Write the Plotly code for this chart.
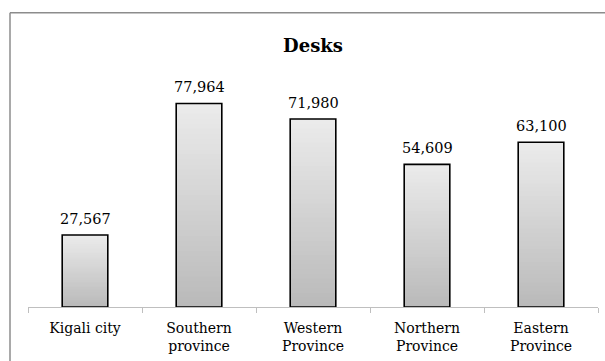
import plotly.graph_objects as go

categories = ["Kigali city", "Southern<br>province", "Western<br>Province", "Northern<br>Province", "Eastern<br>Province"]
desks = [27567, 77964, 71980, 54609, 63100]
labels = ["27,567", "77,964", "71,980", "54,609", "63,100"]
title_text = "Desks"

FONT = "DejaVu Serif"
N = 40
bottom_rgb = (186, 186, 186)
top_rgb = (236, 236, 236)

fig = go.Figure()
for i in range(N):
    f = i / N
    c = tuple(round(bottom_rgb[k] + (top_rgb[k] - bottom_rgb[k]) * f) for k in range(3))
    fig.add_trace(go.Bar(
        x=categories,
        y=[v * (1 - f) for v in desks],
        base=[v * f for v in desks],
        width=0.4,
        marker=dict(color="rgb(%d,%d,%d)" % c, line=dict(width=0)),
        hoverinfo="skip",
        showlegend=False,
    ))

fig.add_trace(go.Bar(
    x=categories,
    y=desks,
    width=0.4,
    marker=dict(color="rgba(0,0,0,0)", line=dict(color="#000000", width=1.6)),
    showlegend=False,
))

for cat, v, lab in zip(categories, desks, labels):
    fig.add_annotation(
        x=cat, y=v, text=lab,
        xref="x", yref="y",
        showarrow=False,
        yanchor="bottom",
        yshift=6,
        font=dict(family=FONT, size=14.5, color="#000000"),
    )

fig.update_layout(
    width=605,
    height=361,
    barmode="overlay",
    paper_bgcolor="white",
    plot_bgcolor="white",
    margin=dict(l=28, r=7, t=72, b=52),
    title=dict(
        text="<b>%s</b>" % title_text,
        x=(28 + 598) / 2 / 605,
        xanchor="center",
        y=1 - 46 / 361,
        yanchor="middle",
        font=dict(family=FONT, size=18, color="#000000"),
    ),
    font=dict(family=FONT, size=14, color="#000000"),
    showlegend=False,
)

fig.update_xaxes(
    showline=True,
    linecolor="#bfbfbf",
    linewidth=1,
    ticks="outside",
    tickson="boundaries",
    ticklen=5,
    tickcolor="#bfbfbf",
    ticklabelstandoff=8,
    tickfont=dict(family=FONT, size=14, color="#000000"),
    showgrid=False,
)
fig.update_yaxes(
    range=[0, 90000],
    visible=False,
    showgrid=False,
)

top_y = (309.5 - 12) / 237.5
left_x = (10 - 28) / 570
fig.add_shape(type="line", xref="paper", yref="paper",
              x0=left_x, x1=1.1, y0=top_y, y1=top_y,
              line=dict(color="#8c8c8c", width=1.5), layer="below")
fig.add_shape(type="line", xref="paper", yref="paper",
              x0=left_x, x1=left_x, y0=-0.3, y1=top_y,
              line=dict(color="#8c8c8c", width=1.5), layer="below")

fig.write_html(
    "out.html",
    config={"displayModeBar": False},
    post_script="document.body.style.margin='0';document.body.style.overflow='hidden';",
)
